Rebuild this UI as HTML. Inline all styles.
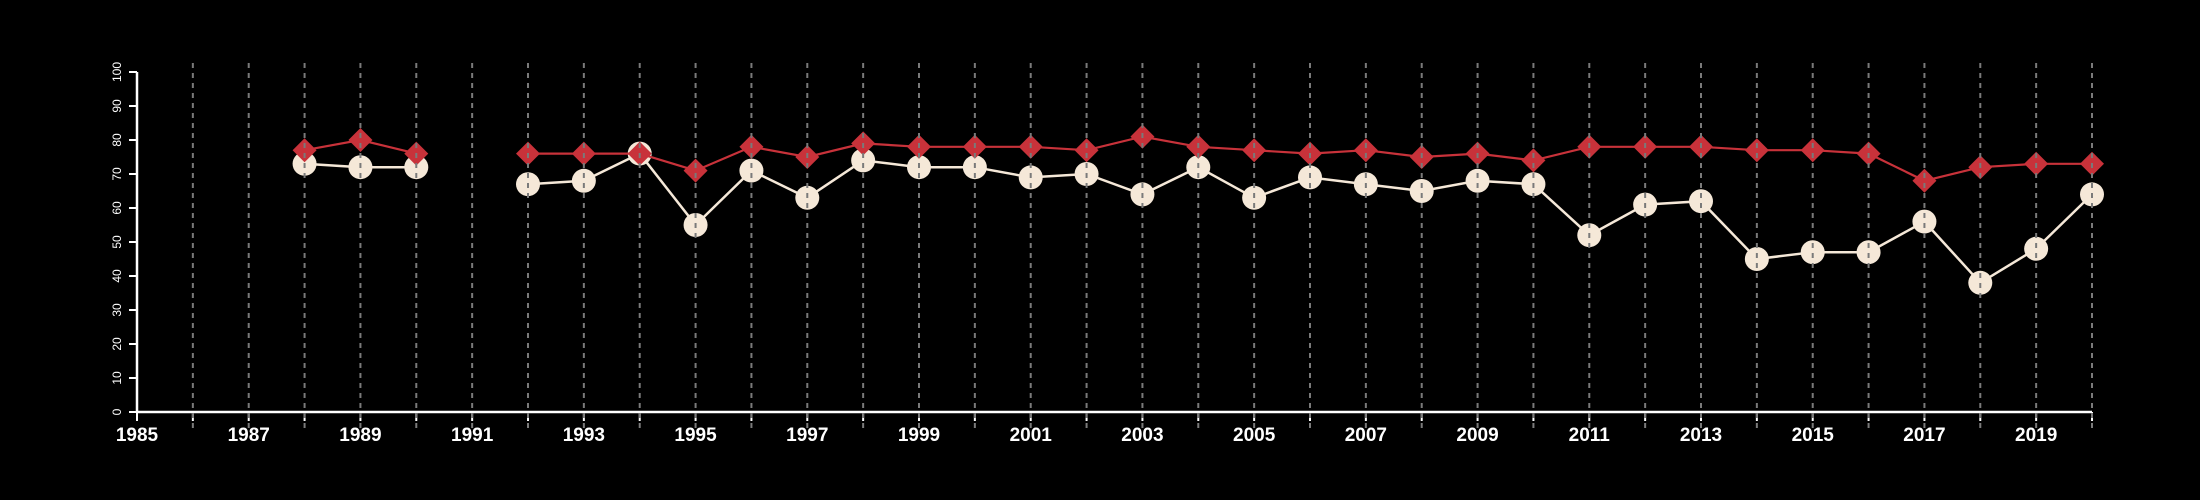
<!DOCTYPE html>
<html><head><meta charset="utf-8"><style>
html,body{margin:0;padding:0;background:#000;}
svg{display:block;}
text{font-family:"Liberation Sans",sans-serif;fill:#fff;}
</style></head><body>
<svg id="chart" width="2200" height="500" viewBox="0 0 2200 500"></svg>
<script>
const years = [1988,1989,1990,1991,1992,1993,1994,1995,1996,1997,1998,1999,2000,2001,2002,2003,2004,2005,2006,2007,2008,2009,2010,2011,2012,2013,2014,2015,2016,2017,2018,2019,2020];
const redSeries = [77,80,76,null,76,76,76,71,78,75,79,78,78,78,77,81,78,77,76,77,75,76,74,78,78,78,77,77,76,68,72,73,73];
const whiteSeries = [73,72,72,null,67,68,76,55,71,63,74,72,72,69,70,64,72,63,69,67,65,68,67,52,61,62,45,47,47,56,38,48,64];
const yTicks = [0,10,20,30,40,50,60,70,80,90,100];
const xTickLabels = [1985,1987,1989,1991,1993,1995,1997,1999,2001,2003,2005,2007,2009,2011,2013,2015,2017,2019];

const NS="http://www.w3.org/2000/svg";
const svg=document.getElementById('chart');
const X0=137,X1=2092,Y0=412,Y1=72;
const xs=y=>X0+(y-1985)/(2020-1985)*(X1-X0);
const ys=v=>Y0-v/100*(Y0-Y1);
function mk(tag,attrs,parent){const e=document.createElementNS(NS,tag);for(const k in attrs)e.setAttribute(k,attrs[k]);(parent||svg).appendChild(e);return e;}

const axes=mk('g',{});


const yAxis=mk('line',{x1:X0,y1:Y1,x2:X0,y2:Y0,stroke:'#fff','stroke-width':2.5},axes);


const xAxis=mk('line',{x1:X0,y1:Y0,x2:X1,y2:Y0,stroke:'#fff','stroke-width':2.5},axes);


yTicks.forEach(t=>{
  const tk=mk('line',{x1:X0-8,y1:ys(t),x2:X0,y2:ys(t),stroke:'#fff','stroke-width':2},axes);
  
  
  const tx=mk('text',{x:0,y:0,'font-size':12,'text-anchor':'middle',transform:`translate(${X0-19},${ys(t)}) rotate(-90)`,'dominant-baseline':'middle'},axes);
  tx.textContent=t;
  
  
});
for(let y=1985;y<=2020;y++){
  const tk=mk('line',{x1:xs(y),y1:Y0,x2:xs(y),y2:Y0+9,stroke:'#fff','stroke-width':2},axes);
  
  
}
xTickLabels.forEach(y=>{
  const tx=mk('text',{x:xs(y),y:441,'font-size':19,'font-weight':'bold','text-anchor':'middle'},axes);
  tx.textContent=y;
  
  
});

function series(vals,color,width,name){
  const g=mk('g',{});
  
  
  let seg=[];
  const segs=[];
  vals.forEach((v,i)=>{if(v==null){if(seg.length)segs.push(seg);seg=[];}else seg.push([xs(years[i]),ys(v)]);});
  if(seg.length)segs.push(seg);
  segs.forEach(s=>{
    const p=mk('polyline',{points:s.map(p=>p.join(',')).join(' '),fill:'none',stroke:color,'stroke-width':width},g);
    
    
  });
  return g;
}
const wg=series(whiteSeries,'#f5e8d8',2.5,'white-series');
whiteSeries.forEach((v,i)=>{if(v==null)return;
  const c=mk('circle',{cx:xs(years[i]),cy:ys(v),r:12,fill:'#f5e8d8'},wg);
  
  
});
const rg=series(redSeries,'#c8323a',2.2,'red-series');
redSeries.forEach((v,i)=>{if(v==null)return;
  const x=xs(years[i]),y=ys(v),d=12;
  const p=mk('polygon',{points:`${x},${y-d} ${x+d},${y} ${x},${y+d} ${x-d},${y}`,fill:'#c8323a'},rg);
  
  
});

const grid=mk('g',{});


for(let y=1986;y<=2020;y++){
  const l=mk('line',{x1:xs(y),y1:63,x2:xs(y),y2:428,stroke:'#7a7a7a','stroke-width':2,'stroke-dasharray':'5,5'},grid);
  
  
}
</script>
</body></html>
